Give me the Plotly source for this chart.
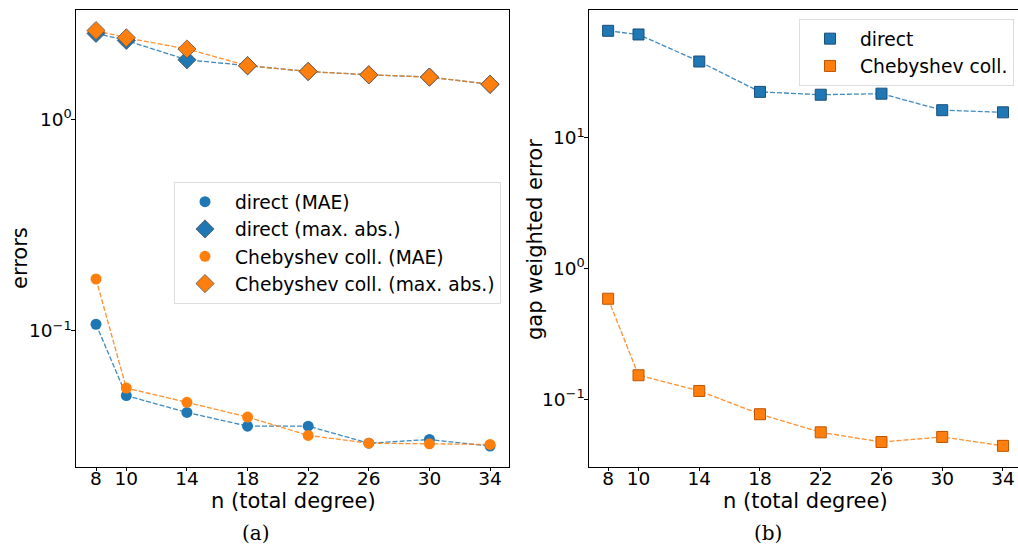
import plotly.graph_objects as go

# ---- data ----
n_vals = [8, 10, 14, 18, 22, 26, 30, 34]

direct_mae = [0.1075, 0.0494, 0.0411, 0.0354, 0.0354, 0.0294, 0.0306, 0.0285]
direct_max = [2.56, 2.37, 1.92, 1.80, 1.69, 1.63, 1.59, 1.47]
cheb_mae = [0.176, 0.0536, 0.0459, 0.0391, 0.0320, 0.0294, 0.0292, 0.0290]
cheb_max = [2.64, 2.44, 2.16, 1.80, 1.69, 1.63, 1.59, 1.47]

gap_direct = [65.9, 61.8, 38.4, 22.5, 21.4, 21.8, 16.3, 15.7]
gap_cheb = [0.590, 0.1535, 0.1164, 0.0773, 0.0562, 0.0474, 0.0518, 0.0443]

x_ticks = [8, 10, 14, 18, 22, 26, 30, 34]
left_yticks = [1, 0.1]
left_yticktext = ["10<sup>0</sup>", "10<sup>\u22121</sup>"]
right_yticks = [10, 1, 0.1]
right_yticktext = ["10<sup>1</sup>", "10<sup>0</sup>", "10<sup>\u22121</sup>"]

BLUE = "#1f77b4"
ORANGE = "#ff7f0e"
W, H = 1018, 546
FONT = "DejaVu Sans"

fig = go.Figure()

def line(x, y, color, xa, ya):
    fig.add_trace(go.Scatter(x=x, y=y, mode="lines", showlegend=False, hoverinfo="skip",
                             line=dict(color=color, width=1.3, dash="5px,2px"),
                             opacity=0.85, xaxis=xa, yaxis=ya))

def marks(x, y, color, symbol, size, name, xa, ya, legend, edge=None, ew=0):
    fig.add_trace(go.Scatter(x=x, y=y, mode="markers", name=name, legend=legend,
                             marker=dict(color=color, symbol=symbol, size=size,
                                         line=dict(color=edge or color, width=ew)),
                             xaxis=xa, yaxis=ya))

# left panel
line(n_vals, direct_mae, BLUE, "x", "y")
line(n_vals, direct_max, BLUE, "x", "y")
line(n_vals, cheb_mae, ORANGE, "x", "y")
line(n_vals, cheb_max, ORANGE, "x", "y")
marks(n_vals, direct_mae, BLUE, "circle", 11, "direct (MAE)", "x", "y", "legend")
marks(n_vals, direct_max, BLUE, "diamond", 14, "direct (max. abs.)", "x", "y", "legend", "#555555", 0.8)
marks(n_vals, cheb_mae, ORANGE, "circle", 11, "Chebyshev coll. (MAE)", "x", "y", "legend")
marks(n_vals, cheb_max, ORANGE, "diamond", 14, "Chebyshev coll. (max. abs.)", "x", "y", "legend", "#555555", 0.8)

# right panel
line(n_vals, gap_direct, BLUE, "x2", "y2")
line(n_vals, gap_cheb, ORANGE, "x2", "y2")
marks(n_vals, gap_direct, BLUE, "square", 11, "direct", "x2", "y2", "legend2", "#1a4f7a", 1)
marks(n_vals, gap_cheb, ORANGE, "square", 11, "Chebyshev coll.", "x2", "y2", "legend2", "#c05400", 1)

ax_common = dict(showline=True, linecolor="black", linewidth=1.2, mirror=True,
                 ticks="outside", ticklen=3.5, tickcolor="black", showgrid=False,
                 zeroline=False, tickfont=dict(family=FONT, size=18.5, color="black"))

yb0, yt0 = 1 - 466.7 / H, 1 - 10 / H

def ann(text, x, y, size=21, family=FONT, angle=0):
    return dict(text=text, x=x / W, y=1 - y / H, xref="paper", yref="paper",
                xanchor="center", yanchor="middle", textangle=angle, showarrow=False,
                font=dict(family=family, size=size, color="black"))

fig.update_layout(
    width=W, height=H, margin=dict(l=0, r=0, t=0, b=0),
    paper_bgcolor="white", plot_bgcolor="white",
    font=dict(family=FONT, color="black"),
    xaxis=dict(domain=[76 / W, 509 / W], range=[6.68, 35.25], tickvals=x_ticks,
               ticklabelstandoff=-9, **ax_common),
    yaxis=dict(domain=[yb0, yt0], type="log", range=[-1.643, 0.519],
               tickvals=left_yticks, ticktext=left_yticktext, ticklabelstandoff=-4, **ax_common),
    xaxis2=dict(domain=[589 / W, 1.0], range=[6.74, 34.99], tickvals=x_ticks, anchor="y2",
                ticklabelstandoff=-9, **ax_common),
    yaxis2=dict(domain=[yb0, yt0], type="log", range=[-1.513, 1.978], anchor="x2",
                tickvals=right_yticks, ticktext=right_yticktext, ticklabelstandoff=-4, **ax_common),
    legend=dict(x=174 / W, y=1 - 182 / H, xanchor="left", yanchor="top",
                bgcolor="white", bordercolor="#dddddd", borderwidth=1,
                font=dict(family=FONT, size=18.7, color="black"), itemwidth=50,
                tracegroupgap=0),
    legend2=dict(x=799 / W, y=1 - 19 / H, xanchor="left", yanchor="top",
                 bgcolor="white", bordercolor="#dddddd", borderwidth=1,
                 font=dict(family=FONT, size=18.7, color="black"), itemwidth=50),
    annotations=[
        ann("n (total degree)", 293, 501),
        ann("n (total degree)", 805, 501),
        ann("errors", 20, 258, angle=-90),
        ann("gap weighted error", 535, 240, angle=-90),
        ann("(a)", 256, 533, size=20, family="DejaVu Serif"),
        ann("(b)", 768, 533, size=20, family="DejaVu Serif"),
    ],
)

fig.write_html("out.html", config={"displayModeBar": False},
               post_script="document.body.style.margin='0';")
